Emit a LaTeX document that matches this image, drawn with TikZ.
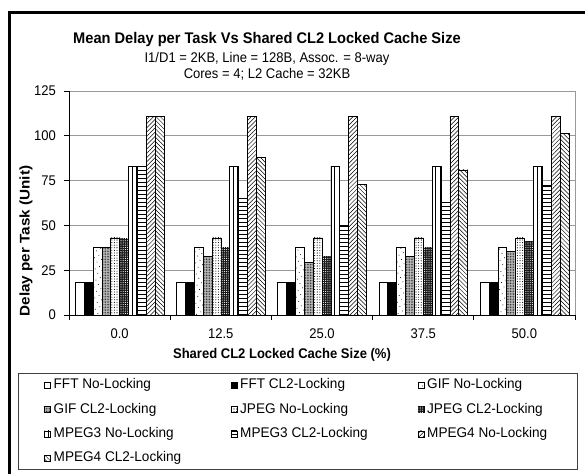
\documentclass[tikz,border=0pt]{standalone}
\usepackage{fontspec}
\setmainfont{Liberation Sans}
\usetikzlibrary{patterns.meta}

% text squeezed or widened horizontally, as the chart tool sets it
\newcommand\wtext[2][0.93]{\scalebox{#1}[1]{#2}}
\newcommand\regsize{\fontsize{14bp}{16bp}\selectfont}

\begin{document}
\begin{tikzpicture}[x=1bp,y=-1bp,
  bar/.style={draw=black, line width=0.6bp},
  pat0/.style={fill=white},
  pat1/.style={fill=black},
  pat2/.style={fill=white, postaction={pattern={Dots[radius=0.5bp, distance=5bp, angle=30]}, pattern color=black}},
  pat3/.style={fill=gray!50, postaction={pattern={Dots[radius=0.45bp, distance=1.6bp]}, pattern color=black}},
  pat4/.style={fill=white, postaction={pattern={Dots[radius=0.55bp, distance=2.6bp]}, pattern color=black}},
  pat5/.style={fill=black!90, postaction={pattern={Dots[radius=0.55bp, distance=2.2bp]}, pattern color=white}},
  pat6/.style={fill=white, postaction={pattern={Lines[angle=90, distance=4.4bp, line width=0.6bp]}, pattern color=black}},
  pat7/.style={fill=white, postaction={pattern={Lines[angle=0, distance=4bp, line width=0.6bp]}, pattern color=black}},
  pat8/.style={fill=white, postaction={pattern={Lines[angle=45, distance=3bp, line width=0.5bp]}, pattern color=black}},
  pat9/.style={fill=white, postaction={pattern={Lines[angle=-45, distance=3bp, line width=0.5bp]}, pattern color=black}},
  grid line/.style={draw=gray!80, line width=0.8bp},
  axis line/.style={draw=black, line width=0.8bp},
  lbl/.style={inner sep=0pt, font=\regsize},
  leg/.style={inner sep=0pt, anchor=west, font=\regsize},
]
\useasboundingbox (0,0) rectangle (585,474);
\fill[white] (0,0) rectangle (585,474);

% outer chart frame
\draw[line width=3bp, black] (9.5,480) -- (9.5,13) -- (590,13);

% titles
\node[inner sep=0pt, font=\fontsize{15.4bp}{17bp}\selectfont\bfseries] (title) at (267,39.5)
  {\wtext[0.95]{Mean Delay per Task Vs Shared CL2 Locked Cache Size}};
\node[lbl] (sub1) at (267,58.5) {\wtext{I1/D1 = 2KB, Line = 128B, Assoc. = 8-way}};
\node[lbl] (sub2) at (267,74.5) {\wtext{Cores = 4; L2 Cache = 32KB}};

% grid lines and plot area border
\foreach \t in {25,50,75,100,125}
  \draw[grid line] (69,{315-\t*1.792}) -- (575,{315-\t*1.792});
\draw[grid line] (575,91) -- (575,315);

% bars
\foreach \g/\vals in {
  0/{18,18,37.5,37.5,43,43,83,83,111,111},
  1/{18,18,37.5,33,43,38,83,65,111,88},
  2/{18,18,37.5,29.5,43,33,83,50,111,73},
  3/{18,18,37.5,32.5,43,37.5,83,63,111,81},
  4/{18,18,37.5,35.3,43,41,83,72.5,111,101.5}}{
  \foreach \v [count=\i from 0] in \vals
    \draw[bar, pat\i] ({75.3+\g*101.2+\i*8.87},315) rectangle ++(8.87,{-\v*1.792});
}

% axes
\draw[axis line] (69,91) -- (69,315) -- (575,315);
\foreach \t in {0,25,50,75,100,125}{
  \draw[axis line] (64,{315-\t*1.792}) -- (69,{315-\t*1.792});
  \node[lbl, anchor=east] (ytick\t) at (56,{315-\t*1.792}) {\wtext{\t}};
}
\foreach \k in {0,...,5}
  \draw[axis line] ({69+\k*101.2},315) -- ({69+\k*101.2},320);
\foreach \c [count=\k from 0] in {0.0,12.5,25.0,37.5,50.0}
  \node[lbl] (xtick\k) at ({119.6+\k*101.2},333.5) {\wtext{\c}};

% axis titles
\node[inner sep=0pt, font=\regsize\bfseries] (xtitle) at (282,355)
  {\wtext{Shared CL2 Locked Cache Size (\%)}};
\node[inner sep=0pt, font=\regsize\bfseries, rotate=90] (ytitle) at (26,241)
  {\wtext[1.09]{Delay per Task (Unit)}};

% legend
\draw[draw=black!75, line width=1bp] (18,373) rectangle (577,469);
\foreach \name [count=\n from 0] in {FFT No-Locking, FFT CL2-Locking, GIF No-Locking,
    GIF CL2-Locking, JPEG No-Locking, JPEG CL2-Locking,
    MPEG3 No-Locking, MPEG3 CL2-Locking, MPEG4 No-Locking, MPEG4 CL2-Locking}{
  \pgfmathtruncatemacro\col{mod(\n,3)}
  \pgfmathtruncatemacro\row{int(\n/3)}
  \pgfmathsetmacro\mx{\col==0 ? 44.5 : (\col==1 ? 231 : 418)}
  \pgfmathsetmacro\my{385+\row*24.4}
  \draw[bar, pat\n] (\mx,\my-3) rectangle ++(6,6);
  \node[leg] (leg\n) at (\mx+9,\my) {\wtext[0.97]{\name}};
}
\end{tikzpicture}
\end{document}
